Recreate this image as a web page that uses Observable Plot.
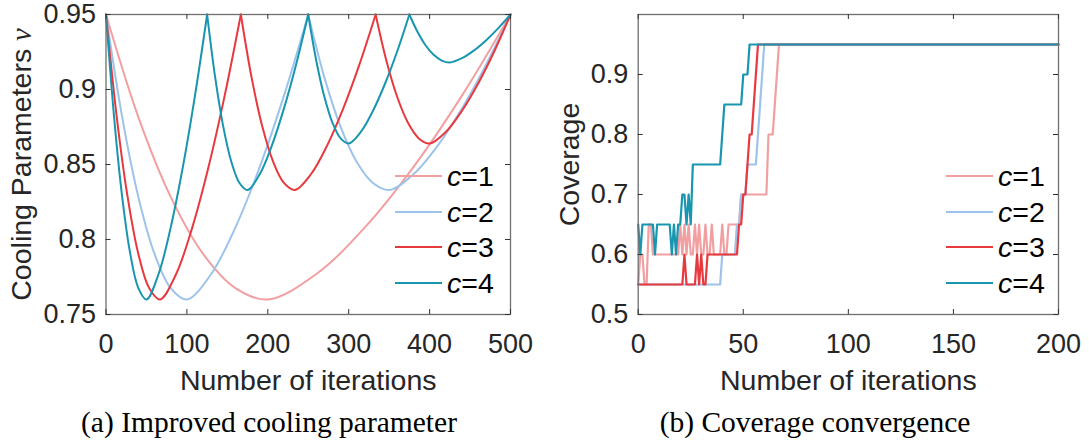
<!DOCTYPE html>
<html>
<head>
<meta charset="utf-8">
<script src="https://cdn.jsdelivr.net/npm/d3@7"></script>
<script src="https://cdn.jsdelivr.net/npm/@observablehq/plot@0.6"></script>
<style>
  html, body { margin: 0; padding: 0; background: #fff; }
  #wrap { position: relative; width: 1089px; height: 441px; overflow: hidden;
          font-family: "Liberation Sans", Arial, sans-serif; color: #262626; }
  .panel { position: absolute; top: 0; }
  .cap { position: absolute; top: 407px; font-family: "Liberation Serif", "Times New Roman", serif;
         font-size: 29.5px; line-height: 30px; color: #000; white-space: nowrap; transform: translateX(-50%); }
  .leg { position: absolute; height: 28px; display: flex; align-items: center;
         font-size: 28.5px; line-height: 28px; color: #000; white-space: nowrap; }
  .leg svg { margin-right: 5px; }
  .leg i { font-style: italic; }
</style>
</head>
<body>
<div id="wrap"></div>
<script>
// ---------- shared ----------
const seriesNames = ["c=1", "c=2", "c=3", "c=4"];
const seriesColors = ["#F29FA2", "#9DC3EA", "#E8393F", "#1996AF"];

// ---------- (a) Improved cooling parameter: points ----------
const nuIterC1 = [0,40,80,120,160,200,260,320,380,440,500];
const nuC1     = [0.95,0.8816,0.8284,0.7904,0.7676,0.76,0.777,0.8081,0.8483,0.8959,0.95];

const nuIterC2 = [0,20,40,60,80,100,130,160,190,220,250,270,290,310,330,350,380,410,440,470,500];
const nuC2     = [0.95,0.8816,0.8284,0.7904,0.7676,0.76,0.777,0.8081,0.8483,0.8959,0.95,
                  0.9079,0.8751,0.8517,0.8377,0.833,0.8435,0.8626,0.8874,0.9167,0.95];

const nuIterC3 = [0,13.3,26.7,40,53.3,66.7,86.7,106.7,126.7,146.7,166.7,180,193.3,206.7,220,233.3,
                  253.3,273.3,293.3,313.3,333.3,346.7,360,373.3,386.7,400,420,440,460,480,500];
const nuC3     = [0.95,0.8816,0.8284,0.7904,0.7676,0.76,0.777,0.8081,0.8483,0.8959,0.95,
                  0.9079,0.8751,0.8517,0.8377,0.833,0.8435,0.8626,0.8874,0.9167,0.95,
                  0.919,0.895,0.8778,0.8674,0.864,0.8717,0.8858,0.904,0.9255,0.95];

const nuIterC4 = [0,10,20,30,40,50,65,80,95,110,125,135,145,155,165,175,190,205,220,235,250,
                  260,270,280,290,300,315,330,345,360,375,385,395,405,415,425,440,455,470,485,500];
const nuC4     = [0.95,0.8816,0.8284,0.7904,0.7676,0.76,0.777,0.8081,0.8483,0.8959,0.95,
                  0.9079,0.8751,0.8517,0.8377,0.833,0.8435,0.8626,0.8874,0.9167,0.95,
                  0.919,0.895,0.8778,0.8674,0.864,0.8717,0.8858,0.904,0.9255,0.95,
                  0.9385,0.9295,0.9231,0.9193,0.918,0.9209,0.9261,0.9329,0.9409,0.95];

const xTicksA = [0,100,200,300,400,500];
const yTicksA = [0.75,0.8,0.85,0.9,0.95];

// ---------- (b) Coverage convergence: value at each iteration 0..70, then flat to 200 ----------
const covC1 = [0.55,0.60,0.60,0.55,0.55,0.65,0.65,0.60,0.60,0.60,
               0.60,0.60,0.60,0.60,0.60,0.60,0.60,0.60,0.60,0.60,
               0.65,0.60,0.65,0.60,0.65,0.60,0.60,0.65,0.60,0.65,
               0.60,0.60,0.65,0.60,0.60,0.65,0.60,0.60,0.60,0.60,
               0.65,0.60,0.60,0.65,0.65,0.65,0.65,0.65,0.65,0.70,
               0.70,0.70,0.70,0.70,0.70,0.70,0.70,0.70,0.70,0.70,
               0.70,0.70,0.80,0.80,0.80,0.85,0.90,0.95,0.95,0.95,
               0.95];
const covC2 = [0.55,0.55,0.55,0.55,0.55,0.55,0.55,0.55,0.55,0.55,
               0.55,0.55,0.55,0.55,0.55,0.55,0.55,0.55,0.55,0.55,
               0.55,0.55,0.55,0.55,0.55,0.55,0.55,0.55,0.55,0.55,
               0.55,0.55,0.55,0.55,0.55,0.55,0.55,0.55,0.55,0.55,
               0.60,0.60,0.60,0.60,0.60,0.60,0.60,0.65,0.65,0.70,
               0.70,0.70,0.75,0.75,0.75,0.75,0.75,0.80,0.85,0.90,
               0.95,0.95,0.95,0.95,0.95,0.95,0.95,0.95,0.95,0.95,
               0.95];
const covC3 = [0.55,0.55,0.55,0.55,0.55,0.55,0.55,0.55,0.55,0.55,
               0.55,0.55,0.55,0.55,0.55,0.55,0.55,0.55,0.55,0.55,
               0.55,0.55,0.60,0.55,0.55,0.55,0.55,0.55,0.60,0.55,
               0.60,0.55,0.55,0.60,0.60,0.60,0.60,0.60,0.60,0.60,
               0.60,0.60,0.60,0.60,0.60,0.60,0.60,0.60,0.65,0.65,
               0.70,0.70,0.75,0.80,0.80,0.85,0.90,0.95,0.95,0.95,
               0.95,0.95,0.95,0.95,0.95,0.95,0.95,0.95,0.95,0.95,
               0.95];
const covC4 = [0.65,0.60,0.65,0.65,0.65,0.65,0.65,0.65,0.60,0.65,
               0.65,0.65,0.65,0.65,0.65,0.65,0.60,0.65,0.60,0.65,
               0.65,0.70,0.70,0.65,0.70,0.65,0.75,0.75,0.75,0.75,
               0.75,0.75,0.75,0.75,0.75,0.75,0.75,0.75,0.75,0.75,
               0.80,0.85,0.85,0.85,0.85,0.85,0.85,0.85,0.85,0.85,
               0.90,0.90,0.90,0.95,0.95,0.95,0.95,0.95,0.95,0.95,
               0.95,0.95,0.95,0.95,0.95,0.95,0.95,0.95,0.95,0.95,
               0.95];
const covLastIter = 200;
const covLast = [0.95, 0.95, 0.95, 0.95];

const xTicksB = [0,50,100,150,200];
const yTicksB = [0.5,0.6,0.7,0.8,0.9];

// ---------- build tables ----------
function coolRows(iters, vals, s) {
  const rows = []; let seg = 0;
  iters.forEach((t, i) => {
    rows.push({t, v: vals[i], s, seg: s + "-" + seg});
    if (vals[i] === 0.95 && i > 0 && i < iters.length - 1) {
      seg++;
      rows.push({t, v: vals[i], s, seg: s + "-" + seg});
    }
  });
  return rows;
}
const coolData = [
  ...coolRows(nuIterC1, nuC1, seriesNames[0]),
  ...coolRows(nuIterC2, nuC2, seriesNames[1]),
  ...coolRows(nuIterC3, nuC3, seriesNames[2]),
  ...coolRows(nuIterC4, nuC4, seriesNames[3])
];
const covData = [];
[covC1, covC2, covC3, covC4].forEach((arr, k) => {
  arr.forEach((v, i) => covData.push({t: i, v, s: seriesNames[k]}));
  covData.push({t: covLastIter, v: covLast[k], s: seriesNames[k]});
});

// ---------- common style ----------
const axisColor = "#6f6f6f";
const tickLen = 5;
const H = 405, mTop = 14, mBottom = 91;
const plotH = H - mTop - mBottom;

function panel({width, mLeft, mRight, data, xDomain, yDomain, xTicks, yTicks, xLabel, yLabel, yLabelDx, curve, sw}) {
  const plotW = width - mLeft - mRight;
  return Plot.plot({
    width, height: H,
    marginLeft: mLeft, marginRight: mRight, marginTop: mTop, marginBottom: mBottom,
    x: {domain: xDomain},
    y: {domain: yDomain},
    color: {domain: seriesNames, range: seriesColors},
    style: {fontFamily: '"Liberation Sans", Arial, sans-serif', fontSize: "27px",
            color: "#262626", background: "transparent", overflow: "visible"},
    marks: [
      Plot.line(data, {x: "t", y: "v", z: curve === "linear" ? "s" : "seg", stroke: "s",
                       strokeWidth: sw, curve, strokeLinejoin: "round"}),
      Plot.frame({stroke: axisColor, strokeWidth: 1.3}),
      Plot.tickX(xTicks, {x: d => d, insetTop: plotH - tickLen, stroke: "#333", strokeWidth: 1}),
      Plot.tickX(xTicks, {x: d => d, insetBottom: plotH - tickLen, stroke: "#333", strokeWidth: 1}),
      Plot.tickY(yTicks, {y: d => d, insetRight: plotW - tickLen, stroke: "#333", strokeWidth: 1}),
      Plot.tickY(yTicks, {y: d => d, insetLeft: plotW - tickLen, stroke: "#333", strokeWidth: 1}),
      Plot.axisX({ticks: xTicks, tickSize: 0, tickPadding: 19, tickFormat: d => String(d), label: null, fontSize: 27}),
      Plot.axisY({ticks: yTicks, tickSize: 0, tickPadding: 10, tickFormat: d => String(d), label: null, fontSize: 27}),
      Plot.text([xLabel], {text: d => d, frameAnchor: "bottom", dy: 66, lineAnchor: "middle",
                           textAnchor: "middle", fontSize: 28.5}),
      Plot.text([yLabel], {text: d => d, frameAnchor: "left", dx: yLabelDx, rotate: -90, lineAnchor: "middle",
                           textAnchor: "middle", fontSize: 28.5})
    ]
  });
}

const wrap = document.getElementById("wrap");

const left = panel({
  width: 545, mLeft: 105.5, mRight: 35, data: coolData,
  xDomain: [0, 500], yDomain: [0.75, 0.95], xTicks: xTicksA, yTicks: yTicksA,
  xLabel: "Number of iterations", yLabel: "Cooling Parameters ν", yLabelDx: -84.5,
  curve: "catmull-rom", sw: 2
});
left.classList.add("panel"); left.style.left = "0px";
wrap.appendChild(left);

const right = panel({
  width: 544, mLeft: 92.7, mRight: 31, data: covData,
  xDomain: [0, 200], yDomain: [0.5, 1.0], xTicks: xTicksB, yTicks: yTicksB,
  xLabel: "Number of iterations", yLabel: "Coverage", yLabelDx: -68,
  curve: "linear", sw: 2.2
});
right.classList.add("panel"); right.style.left = "545px";
wrap.appendChild(right);

// italic serif ν in the left y label
left.querySelectorAll("text").forEach(t => {
  if (t.textContent === "Cooling Parameters ν") {
    t.textContent = "Cooling Parameters ";
    const ts = document.createElementNS("http://www.w3.org/2000/svg", "tspan");
    ts.setAttribute("font-style", "italic");
    ts.setAttribute("font-family", '"Liberation Serif", "Times New Roman", serif');
    ts.textContent = "ν";
    t.appendChild(ts);
  }
});

// legends
const legRows = [176, 212, 247, 283];
function addLegend(x0) {
  seriesNames.forEach((name, k) => {
    const d = document.createElement("div");
    d.className = "leg";
    d.style.left = x0 + "px";
    d.style.top = (legRows[k] - 14) + "px";
    d.innerHTML = `<svg width="47" height="6"><line x1="0" x2="47" y1="3" y2="3" stroke="${seriesColors[k]}" stroke-width="2.2"/></svg><span><i>c</i>${name.slice(1)}</span>`;
    wrap.appendChild(d);
  });
}
addLegend(395);
addLegend(946);

// captions
[["(a) Improved cooling parameter", 269], ["(b) Coverage convergence", 815]].forEach(([txt, cx]) => {
  const c = document.createElement("div");
  c.className = "cap"; c.style.left = cx + "px"; c.textContent = txt;
  wrap.appendChild(c);
});
</script>
</body>
</html>
